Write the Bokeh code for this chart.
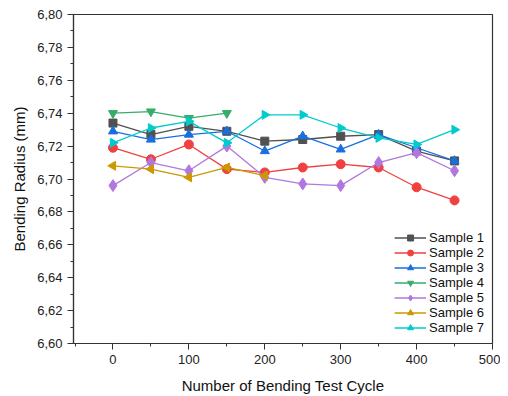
import math
from bokeh.plotting import figure
from bokeh.models import SingleIntervalTicker, CustomJSTickFormatter, Range1d, Legend, LegendItem
from bokeh.embed import file_html
from bokeh.resources import INLINE

cycles = [0, 50, 100, 150, 200, 250, 300, 350, 400, 450]
sample1 = [6.734, 6.727, 6.732, 6.729, 6.723, 6.724, 6.726, 6.727, 6.717, 6.711]
sample2 = [6.719, 6.712, 6.721, 6.706, 6.704, 6.707, 6.709, 6.707, 6.695, 6.687]
sample3 = [6.729, 6.724, 6.727, 6.729, 6.717, 6.726, 6.718, 6.727, 6.719, 6.711]
sample4 = [6.740, 6.741, 6.737, 6.740]
sample5 = [6.696, 6.710, 6.705, 6.720, 6.701, 6.697, 6.696, 6.710, 6.716, 6.705]
sample6 = [6.708, 6.706, 6.701, 6.707, 6.702]
sample7 = [6.722, 6.731, 6.735, 6.722, 6.739, 6.739, 6.731, 6.725, 6.721, 6.730]

names = ["Sample 1", "Sample 2", "Sample 3", "Sample 4", "Sample 5", "Sample 6", "Sample 7"]
series = [sample1, sample2, sample3, sample4, sample5, sample6, sample7]
colors = ["#515151", "#F14040", "#1A6FDF", "#37AD6B", "#B177DE", "#CC9900", "#00CBCC"]
markers = ["square", "circle", "triangle", "inverted_triangle", "diamond", "triangle", "triangle"]
angles = [0, 0, 0, 0, 0, math.pi / 2, -math.pi / 2]
sizes = [8, 9, 9, 9, 12, 9, 9]

FONT = "Liberation Sans"

p = figure(width=500, height=396, output_backend="svg", toolbar_location=None,
           x_range=Range1d(-52, 500), y_range=Range1d(6.60, 6.80),
           min_border_left=73, min_border_right=8, min_border_top=14, min_border_bottom=51)

p.xgrid.visible = False
p.ygrid.visible = False
p.outline_line_color = "#333333"
p.outline_line_width = 1.2

items = []
for name, ys, c, m, a, s in zip(names, series, colors, markers, angles, sizes):
    xs = cycles[:len(ys)]
    r1 = p.line(xs, ys, line_color=c, line_width=1.3)
    r2 = p.scatter(xs, ys, marker=m, angle=a, size=s, fill_color=c, line_color=c)
    items.append(LegendItem(label=name, renderers=[r1, r2]))

legend = Legend(items=items, location="bottom_right", border_line_color=None,
                background_fill_alpha=0, glyph_height=15, label_height=15, spacing=0,
                glyph_width=32, padding=2, margin=8, label_standoff=3,
                label_text_font=FONT, label_text_font_size="13px", label_text_color="#111111")
p.add_layout(legend)

p.xaxis.ticker = SingleIntervalTicker(interval=100, num_minor_ticks=2)
p.yaxis.ticker = SingleIntervalTicker(interval=0.02, num_minor_ticks=2)
p.yaxis.formatter = CustomJSTickFormatter(code="return tick.toFixed(2).replace('.', ',');")

for ax in (p.xaxis, p.yaxis):
    ax.major_tick_in = 0
    ax.major_tick_out = 6
    ax.minor_tick_in = 0
    ax.minor_tick_out = 3
    ax.axis_line_color = "#333333"
    ax.axis_line_width = 1.2
    ax.major_tick_line_color = "#333333"
    ax.minor_tick_line_color = "#333333"
    ax.major_label_text_font = FONT
    ax.major_label_text_font_size = "13px"
    ax.major_label_text_color = "#222222"
    ax.axis_label_text_font = FONT
    ax.axis_label_text_font_size = "15px"
    ax.axis_label_text_font_style = "normal"
    ax.axis_label_text_color = "#111111"

p.xaxis.axis_label = "Number of Bending Test Cycle"
p.yaxis.axis_label = "Bending Radius (mm)"
p.xaxis.axis_label_standoff = 10
p.yaxis.axis_label_standoff = 6

open("out.html", "w").write(file_html(p, INLINE))
